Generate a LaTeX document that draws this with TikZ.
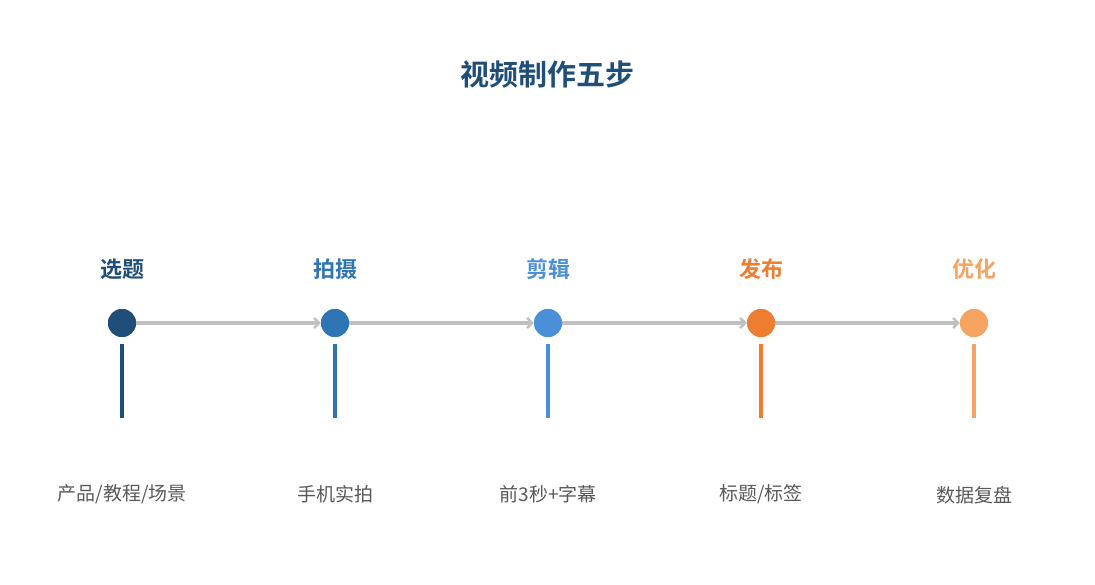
\documentclass[tikz,border=0pt]{standalone}
\usepackage{fontspec}
\setmainfont{Noto Sans CJK SC}
\newfontfamily\cjkbold{Noto Sans CJK SC Bold}
\usetikzlibrary{arrows.meta}
\definecolor{cA}{HTML}{1F4E79}
\definecolor{cB}{HTML}{2E75B6}
\definecolor{cC}{HTML}{4A90D9}
\definecolor{cD}{HTML}{ED7D31}
\definecolor{cE}{HTML}{F4A460}
\definecolor{arr}{HTML}{C0C0C0}
\definecolor{desc}{HTML}{595959}
\tikzset{
  dot/.style={circle,fill=#1,minimum size=28pt,inner sep=0pt},
  steplabel/.style={text=#1,font=\cjkbold\fontsize{22}{26}\selectfont,inner sep=0pt},
  stem/.style={draw=#1,line width=4pt},
  desclabel/.style={text=desc,font=\fontsize{19}{23}\selectfont,inner sep=0pt},
  flow/.style={draw=arr,line width=3.5pt,-{Straight Barb[length=5pt,width=10pt,line width=2.5pt]}},
}
\begin{document}
\begin{tikzpicture}[x=1pt,y=-1pt]
\useasboundingbox (0,0) rectangle (1095,585);
\node[text=cA,font=\cjkbold\fontsize{29}{33}\selectfont,inner sep=0pt] (title) at (547,75) {视频制作五步};
\foreach \i/\x/\c/\lab in {1/122/cA/选题,2/335/cB/拍摄,3/548/cC/剪辑,4/761/cD/发布,5/974/cE/优化}{
  \node[dot=\c] (d\i) at (\x,323) {};
  \node[steplabel=\c] (l\i) at (\x,269) {\lab};
  \coordinate (s\i) at (\x,344);
  \coordinate (e\i) at (\x,418);
  \draw[stem=\c] (s\i) -- (e\i);
}
\node[desclabel] (t1) at (122,494) {产品/教程/场景};
\node[desclabel] (t2) at (335,494) {手机实拍};
\node[desclabel] (t3) at (548,494) {前3秒+字幕};
\node[desclabel] (t4) at (761,494) {标题/标签};
\node[desclabel] (t5) at (974,495) {数据复盘};
\foreach \a/\b in {1/2,2/3,3/4,4/5}{
  \draw[flow] (d\a.east) -- (d\b.west);
}
\foreach \i/\c in {1/cA,2/cB,3/cC,4/cD,5/cE}{
  \node[dot=\c] at (d\i) {};
}
\end{tikzpicture}
\end{document}
